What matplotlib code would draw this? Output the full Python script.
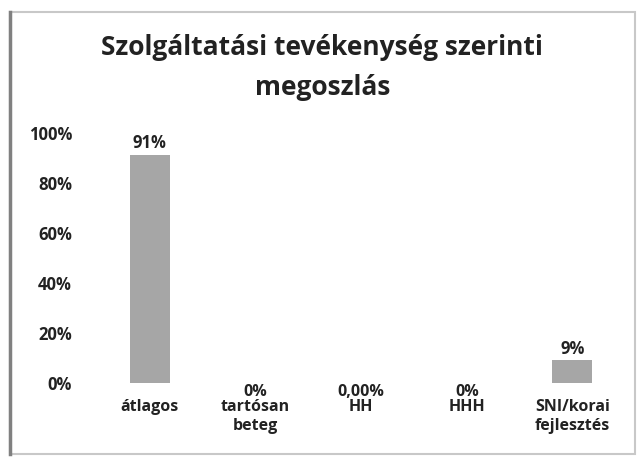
import matplotlib.pyplot as plt
from matplotlib.patches import Rectangle
from matplotlib.lines import Line2D

plt.rcParams['font.family'] = ['Open Sans', 'DejaVu Sans']

# data
categories = ['átlagos', 'tartósan\nbeteg', 'HH', 'HHH', 'SNI/korai\nfejlesztés']
values = [0.91, 0.0, 0.0, 0.0, 0.09]
value_labels = ['91%', '0%', '0,00%', '0%', '9%']
yticks = [0, 0.2, 0.4, 0.6, 0.8, 1.0]
ytick_labels = ['0%', '20%', '40%', '60%', '80%', '100%']

fig = plt.figure(figsize=(6.38, 4.59), dpi=100)
ax = fig.add_axes([0.152, 0.166, 0.828, 0.545])

x = range(len(categories))
bars = ax.bar(x, values, width=0.38, color='#a6a6a6')

# value labels (zero bars get their label just under the baseline, like the original)
for b, v, lab in zip(bars, values, value_labels):
    cx = b.get_x() + b.get_width() / 2
    if v > 0:
        ax.annotate(lab, (cx, v), xytext=(0, 2), textcoords='offset points',
                    ha='center', va='bottom', fontsize=12, fontweight='bold', color='#222222')
    else:
        ax.annotate(lab, (cx, 0), xytext=(0, -1), textcoords='offset points',
                    ha='center', va='top', fontsize=11.5, fontweight='bold', color='#222222')

ax.set_ylim(0, 1.0)
ax.set_xlim(-0.5, len(categories) - 0.5)
ax.set_yticks(yticks)
ax.set_yticklabels(ytick_labels, fontsize=12, fontweight='bold', color='#222222')
ax.set_xticks(list(x))
ax.set_xticklabels(categories, fontsize=11.5, fontweight='bold', color='#222222', linespacing=1.2)
ax.tick_params(axis='y', length=0, pad=18)
ax.tick_params(axis='x', length=0, pad=12)
for s in ax.spines.values():
    s.set_visible(False)

fig.text(0.505, 0.853, 'Szolgáltatási tevékenység szerinti\nmegoszlás', ha='center', va='center',
         fontsize=19, fontweight='bold', color='#222222', linespacing=1.6)

# chart frame
fig.add_artist(Rectangle((0.016, 0.01), 0.98, 0.963, transform=fig.transFigure,
                         fill=False, edgecolor='#c8c8c8', lw=1.5))
fig.add_artist(Line2D([0.016, 0.016], [0.01, 0.973], transform=fig.transFigure,
                      color='#808080', lw=2.5))

fig.savefig('out.png', dpi=100)
